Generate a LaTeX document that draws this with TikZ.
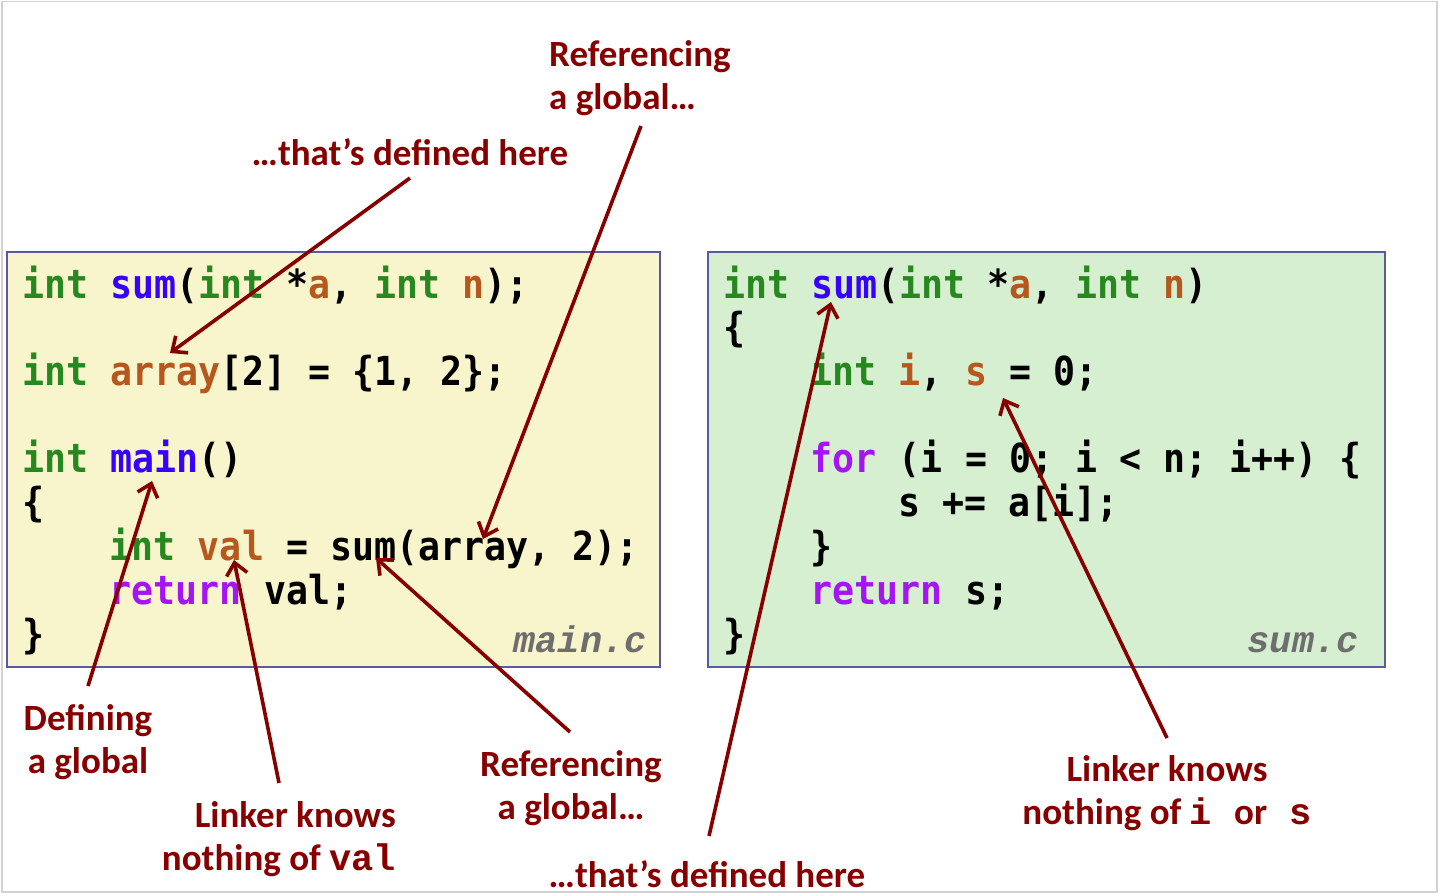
\documentclass[tikz,border=0pt]{standalone}
\usepackage{fontspec}
\usetikzlibrary{arrows.meta}
\setmainfont{Carlito}
\newfontfamily\codefont{DejaVu Sans Mono}[FakeStretch=0.915]
\newfontfamily\lmono{Liberation Mono}
\definecolor{kwg}{RGB}{38,136,30}
\definecolor{fnb}{RGB}{55,0,255}
\definecolor{vro}{RGB}{182,88,30}
\definecolor{kwp}{RGB}{165,20,245}
\definecolor{labred}{RGB}{135,0,0}
\definecolor{boxy}{RGB}{248,244,204}
\definecolor{boxg}{RGB}{214,239,208}
\definecolor{boxline}{RGB}{90,90,160}
\definecolor{fname}{RGB}{110,110,110}
\newcommand{\kw}[1]{\textcolor{kwg}{#1}}
\newcommand{\fn}[1]{\textcolor{fnb}{#1}}
\newcommand{\vr}[1]{\textcolor{vro}{#1}}
\newcommand{\kp}[1]{\textcolor{kwp}{#1}}
\begin{document}
\begin{tikzpicture}[x=1pt,y=-1pt,
  code/.style={anchor=base west,inner sep=0pt,font=\codefont\bfseries\fontsize{40}{44}\selectfont},
  fnm/.style={anchor=base east,inner sep=0pt,text=fname,font=\lmono\bfseries\itshape\fontsize{37}{40}\selectfont},
  lab/.style={inner sep=0pt,text=labred,font=\bfseries\fontsize{37}{43}\selectfont},
  arr/.style={draw=labred,line width=3.6pt,-{Straight Barb[length=12pt,width=21pt,line width=3.6pt]}},
  codebox/.style={draw=boxline,line width=1.2pt}]
\useasboundingbox (0,0) rectangle (1440,895);
\draw[gray!35,line width=1.5pt] (2,1.5) rectangle (1437,892);
% boxes
\draw[codebox,fill=boxy] (7,252) rectangle (660,667);
\draw[codebox,fill=boxg] (708,252) rectangle (1385,667);
% main.c
\node[code] (m0) at (22,298) {\kw{int} \fn{sum}(\kw{int} *\vr{a}, \kw{int} \vr{n});};
\node[code] (m2) at (22,385) {\kw{int} \vr{array}[2] = \{1, 2\};};
\node[code] (m4) at (22,472) {\kw{int} \fn{main}()};
\node[code] (m5) at (22,516) {\{};
\node[code] (m6) at (109.6,560) {\kw{int} \vr{val} = sum(array, 2);};
\node[code] (m7) at (109.6,604) {\kp{return} val;};
\node[code] (m8) at (22,648) {\}};
\node[fnm] (mf) at (647,652) {main.c};
% sum.c
\node[code] (s0) at (723,298) {\kw{int} \fn{sum}(\kw{int} *\vr{a}, \kw{int} \vr{n})};
\node[code] (s1) at (723,341) {\{};
\node[code] (s2) at (810.6,385) {\kw{int} \vr{i}, \vr{s} = 0;};
\node[code] (s4) at (810.6,472) {\kp{for} (i = 0; i < n; i++) \{};
\node[code] (s5) at (898.2,516) {s += a[i];};
\node[code] (s6) at (810.6,560) {\}};
\node[code] (s7) at (810.6,604) {\kp{return} s;};
\node[code] (s8) at (723,648) {\}};
\node[fnm] (sf) at (1359,652) {sum.c};
% labels
\node[lab,anchor=west,align=left] (refTop) at (549,78) {Referencing\\a global…};
\node[lab] (defTop) at (410,152) {…that’s defined here};
\node[lab,align=center] (defLab) at (88,742) {Defining\\a global};
\node[lab,anchor=east,align=right] (linkVal) at (396,839) {Linker knows\\nothing of {\lmono val}};
\node[lab,align=center] (refBot) at (571,788) {Referencing\\a global…};
\node[lab] (defBot) at (707,874) {…that’s defined here};
\node[lab,align=center] (linkIS) at (1167,793) {Linker knows\\nothing of {\lmono i }or{\lmono\ s}};
% arrow ends
\coordinate (s1a) at (410,178); \coordinate (t1a) at (170,353);
\coordinate (s2a) at (641,126); \coordinate (t2a) at (483,539);
\coordinate (s3a) at (88,686);  \coordinate (t3a) at (152,481);
\coordinate (s4a) at (279,783); \coordinate (t4a) at (234,560);
\coordinate (s5a) at (570,732); \coordinate (t5a) at (376,558);
\coordinate (s6a) at (709,836); \coordinate (t6a) at (831,302);
\coordinate (s7a) at (1167,738); \coordinate (t7a) at (1003,398);
\draw[arr] (s1a) -- (t1a);
\draw[arr] (s2a) -- (t2a);
\draw[arr] (s3a) -- (t3a);
\draw[arr] (s4a) -- (t4a);
\draw[arr] (s5a) -- (t5a);
\draw[arr] (s6a) -- (t6a);
\draw[arr] (s7a) -- (t7a);
\end{tikzpicture}
\end{document}
